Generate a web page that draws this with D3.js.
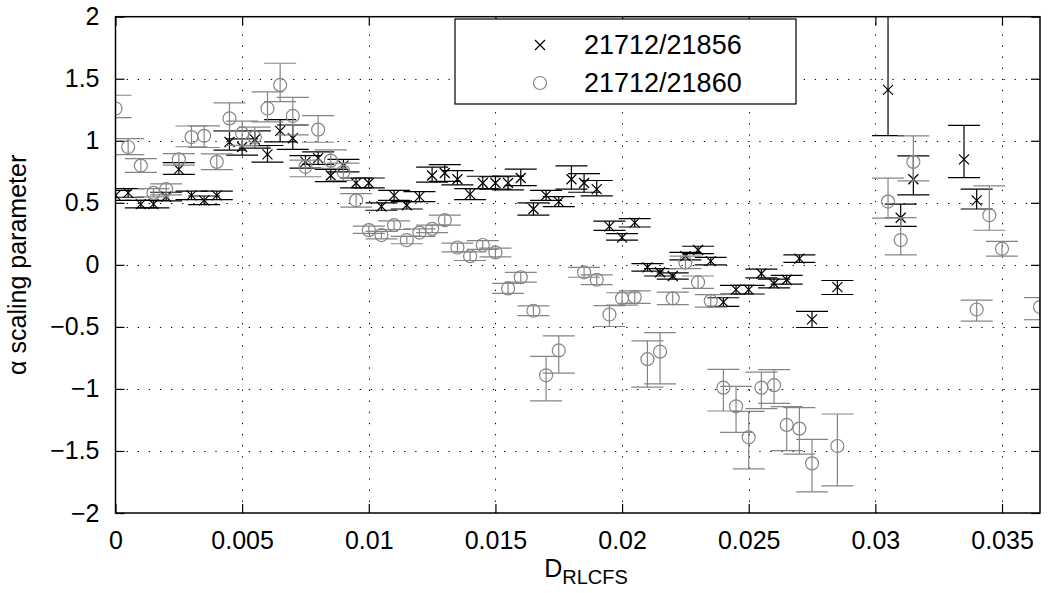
<!DOCTYPE html>
<html>
<head>
<meta charset="utf-8">
<script src="https://cdn.jsdelivr.net/npm/d3@7"></script>
<style>
  html, body { margin: 0; padding: 0; background: #fff; }
  svg { display: block; font-family: "Liberation Sans", Arial, Helvetica, sans-serif; }
</style>
</head>
<body>
<svg id="chart" width="1059" height="593"></svg>
<script>
// Shot pair 21712/21856 (black crosses)
const xA = [0,0.0005,0.001,0.0015,0.002,0.0025,0.003,0.0035,0.004,0.0045,0.005,0.0055,0.006,0.0065,0.007,0.0075,0.008,0.0085,0.009,0.0095,
  0.01,0.0105,0.011,0.0115,0.012,0.0125,0.013,0.0135,0.014,0.0145,0.015,0.0155,0.016,0.0165,0.017,0.0175,0.018,0.0185,0.019,0.0195,
  0.02,0.0205,0.021,0.0215,0.022,0.0225,0.023,0.0235,0.024,0.0245,0.025,0.0255,0.026,0.0265,0.027,0.0275,0.0285,0.0305,0.031,0.0315,0.0335,0.034];
const yA = [0.56,0.58,0.49,0.49,0.55,0.77,0.56,0.52,0.56,0.99,0.95,1.01,0.89,1.08,1.02,0.83,0.86,0.72,0.80,0.66,
  0.66,0.47,0.56,0.48,0.55,0.72,0.74,0.69,0.57,0.66,0.66,0.66,0.70,0.45,0.56,0.51,0.69,0.66,0.61,0.31,
  0.22,0.34,-0.02,-0.06,-0.09,0.07,0.12,0.03,-0.30,-0.20,-0.20,-0.07,-0.15,-0.12,0.05,-0.44,-0.18,1.41,0.38,0.69,0.85,0.52];
const loA = [0.04,0.035,0.03,0.03,0.035,0.04,0.035,0.035,0.035,0.065,0.065,0.07,0.062,0.089,0.089,0.05,0.05,0.05,0.05,0.04,
  0.04,0.03,0.04,0.03,0.04,0.054,0.067,0.046,0.045,0.046,0.05,0.055,0.062,0.05,0.04,0.04,0.08,0.075,0.054,0.032,
  0.021,0.035,0.03,0.03,0.025,0.03,0.03,0.03,0.035,0.035,0.035,0.035,0.035,0.035,0.03,0.065,0.059,0.368,0.07,0.126,0.147,0.07];
const hiA = [0.04,0.035,0.03,0.03,0.035,0.054,0.035,0.035,0.035,0.089,0.065,0.07,0.072,0.091,0.107,0.05,0.05,0.05,0.05,0.04,
  0.04,0.03,0.04,0.03,0.04,0.067,0.067,0.07,0.045,0.054,0.05,0.055,0.072,0.05,0.04,0.04,0.107,0.075,0.07,0.043,
  0.032,0.032,0.03,0.03,0.025,0.03,0.03,0.03,0.035,0.035,0.035,0.035,0.035,0.035,0.03,0.065,0.054,0.8,0.11,0.188,0.274,0.09];

// Shot pair 21712/21860 (grey circles)
const xB = [0,0.0005,0.001,0.0015,0.002,0.0025,0.003,0.0035,0.004,0.0045,0.005,0.0055,0.006,0.0065,0.007,0.0075,0.008,0.0085,0.009,0.0095,
  0.01,0.0105,0.011,0.0115,0.012,0.0125,0.013,0.0135,0.014,0.0145,0.015,0.0155,0.016,0.0165,0.017,0.0175,
  0.0185,0.019,0.0195,0.02,0.0205,0.021,0.0215,0.022,0.0225,0.023,0.0235,0.024,0.0245,0.025,0.0255,0.026,0.0265,0.027,0.0275,
  0.0285,0.0305,0.031,0.0315,0.034,0.0345,0.035,0.0365];
const yB = [1.26,0.95,0.80,0.58,0.61,0.85,1.03,1.04,0.83,1.18,1.06,1.03,1.26,1.45,1.20,0.79,1.09,0.84,0.75,0.52,
  0.28,0.24,0.32,0.20,0.26,0.29,0.36,0.14,0.07,0.16,0.10,-0.19,-0.10,-0.37,-0.89,-0.69,
  -0.06,-0.12,-0.40,-0.27,-0.26,-0.76,-0.70,-0.27,0.02,-0.14,-0.29,-0.99,-1.14,-1.39,-0.99,-0.97,-1.29,-1.32,-1.60,
  -1.46,0.51,0.20,0.83,-0.36,0.40,0.13,-0.34];
const loB = [0.073,0.062,0.054,0.032,0.046,0.047,0.078,0.094,0.062,0.102,0.097,0.08,0.107,0.134,0.153,0.08,0.102,0.062,0.07,0.054,
  0.027,0.03,0.035,0.03,0.03,0.03,0.04,0.035,0.035,0.035,0.035,0.04,0.04,0.04,0.207,0.182,
  0.04,0.04,0.097,0.054,0.05,0.226,0.26,0.05,0.05,0.05,0.05,0.188,0.21,0.255,0.169,0.147,0.207,0.206,0.229,
  0.322,0.134,0.12,0.153,0.094,0.121,0.06,0.102];
const hiB = [0.107,0.067,0.056,0.035,0.043,0.047,0.089,0.08,0.064,0.126,0.099,0.08,0.134,0.175,0.15,0.054,0.113,0.086,0.07,0.054,
  0.032,0.03,0.035,0.03,0.03,0.03,0.04,0.035,0.035,0.035,0.035,0.04,0.04,0.04,0.153,0.118,
  0.04,0.04,0.072,0.045,0.05,0.147,0.153,0.05,0.05,0.05,0.05,0.147,0.161,0.209,0.126,0.126,0.147,0.169,0.193,
  0.258,0.189,0.18,0.21,0.075,0.236,0.06,0.076];

const seriesNames = ["21712/21856", "21712/21860"];
const xTicks = [0,0.005,0.01,0.015,0.02,0.025,0.03,0.035];
const xTickLabels = ["0","0.005","0.01","0.015","0.02","0.025","0.03","0.035"];
const yTicks = [-2,-1.5,-1,-0.5,0,0.5,1,1.5,2];
const yTickLabels = ["\u22122","\u22121.5","\u22121","\u22120.5","0","0.5","1","1.5","2"];

const svg = d3.select("#chart");
const L = 115.5, R = 1040, T = 16.7, B = 513;
const x = d3.scaleLinear().domain([0, 0.0365]).range([L, R]);
const y = d3.scaleLinear().domain([-2, 2]).range([B, T]);
const FONT = 25;

svg.append("defs").append("clipPath").attr("id", "plotclip")
  .append("rect").attr("x", L).attr("y", T).attr("width", R - L).attr("height", B - T);

// dotted grid
const grid = svg.append("g").attr("stroke", "#000").attr("stroke-width", 1)
  .attr("stroke-dasharray", "1.3,9.8").attr("fill", "none");
xTicks.slice(1).forEach(t => grid.append("line")
  .attr("x1", Math.round(x(t)) + 0.5).attr("x2", Math.round(x(t)) + 0.5).attr("y1", B).attr("y2", T));
yTicks.slice(1, -1).forEach(t => grid.append("line")
  .attr("y1", Math.round(y(t)) + 0.5).attr("y2", Math.round(y(t)) + 0.5).attr("x1", L).attr("x2", R));

// axes with inward ticks on all four sides
const tickLen = 9;
const axB = d3.axisBottom(x).tickValues(xTicks).tickFormat((d, i) => xTickLabels[i]).tickSizeInner(-tickLen).tickSizeOuter(0).tickPadding(18);
const axT = d3.axisTop(x).tickValues(xTicks).tickFormat("").tickSizeInner(-tickLen).tickSizeOuter(0);
const axLft = d3.axisLeft(y).tickValues(yTicks).tickFormat((d, i) => yTickLabels[i]).tickSizeInner(-tickLen).tickSizeOuter(0).tickPadding(16);
const axRgt = d3.axisRight(y).tickValues(yTicks).tickFormat("").tickSizeInner(-tickLen).tickSizeOuter(0);

function styleAxis(g) {
  g.select(".domain").remove();
  g.selectAll(".tick line").attr("stroke", "#000").attr("stroke-width", 1.2);
  g.selectAll("text").attr("font-size", FONT).attr("fill", "#000")
    .attr("font-family", "'Liberation Sans', Arial, sans-serif");
}
svg.append("g").attr("transform", `translate(0,${B})`).call(axB).call(styleAxis);
svg.append("g").attr("transform", `translate(0,${T})`).call(axT).call(styleAxis);
svg.append("g").attr("transform", `translate(${L},0)`).call(axLft).call(styleAxis);
svg.append("g").attr("transform", `translate(${R},0)`).call(axRgt).call(styleAxis);

// data layers, clipped to the axes box
const plot = svg.append("g").attr("clip-path", "url(#plotclip)");
const capHalf = 16;

function drawSeries(xs, ys, lo, hi, color, marker) {
  const g = plot.append("g").attr("stroke", color).attr("stroke-width", 1.2).attr("fill", "none");
  xs.forEach((xv, i) => {
    const cx = x(xv), yt = y(ys[i] + hi[i]), yb = y(ys[i] - lo[i]);
    g.append("line").attr("x1", cx).attr("x2", cx).attr("y1", yt).attr("y2", yb);
    g.append("line").attr("x1", cx - capHalf).attr("x2", cx + capHalf).attr("y1", yt).attr("y2", yt);
    g.append("line").attr("x1", cx - capHalf).attr("x2", cx + capHalf).attr("y1", yb).attr("y2", yb);
    marker(g, cx, y(ys[i]));
  });
}
function crossMarker(g, cx, cy) {
  const s = 5;
  g.append("path").attr("d", `M${cx - s},${cy - s}L${cx + s},${cy + s}M${cx - s},${cy + s}L${cx + s},${cy - s}`);
}
function circleMarker(g, cx, cy) {
  g.append("circle").attr("cx", cx).attr("cy", cy).attr("r", 6.5);
}
drawSeries(xA, yA, loA, hiA, "#000", crossMarker);
drawSeries(xB, yB, loB, hiB, "#858585", circleMarker);

// axes box
svg.append("rect").attr("x", L).attr("y", T).attr("width", R - L).attr("height", B - T)
  .attr("fill", "none").attr("stroke", "#000").attr("stroke-width", 1.5);

// legend
const lg = svg.append("g");
lg.append("rect").attr("x", 455).attr("y", 19).attr("width", 341).attr("height", 85)
  .attr("fill", "#fff").attr("stroke", "#000").attr("stroke-width", 1.2);
const lgRows = [{name: seriesNames[0], color: "#000", marker: crossMarker, cy: 45},
                {name: seriesNames[1], color: "#858585", marker: circleMarker, cy: 83}];
lgRows.forEach(r => {
  const g = lg.append("g").attr("stroke", r.color).attr("stroke-width", 1.2).attr("fill", "none");
  r.marker(g, 540, r.cy);
  lg.append("text").attr("x", 584).attr("y", r.cy).attr("dy", "0.35em")
    .attr("font-size", 27).attr("fill", "#000").text(r.name);
});

// axis titles
const xl = svg.append("text").attr("x", 586).attr("y", 577).attr("font-size", FONT).attr("fill", "#000")
  .attr("text-anchor", "middle");
xl.append("tspan").text("D");
xl.append("tspan").attr("font-size", 20).attr("dy", 7).text("RLCFS");

svg.append("text").attr("transform", `translate(26,${(T + B) / 2}) rotate(-90)`)
  .attr("text-anchor", "middle").attr("font-size", FONT).attr("fill", "#000")
  .text("\u03b1 scaling parameter");
</script>
</body>
</html>
